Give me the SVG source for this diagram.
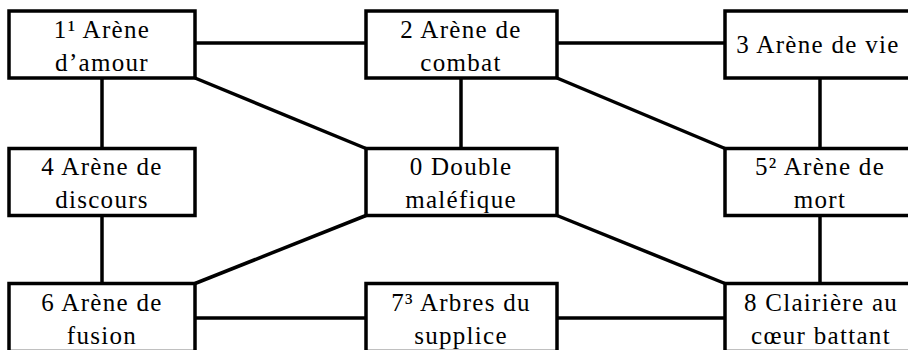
<svg xmlns="http://www.w3.org/2000/svg" width="908" height="350" viewBox="0 0 908 350">
<style>
.box{fill:#fff;stroke:#000;stroke-width:3.5}
.con line{stroke:#000;stroke-width:3.5}
.t{font-family:'Liberation Serif','DejaVu Serif',serif;font-size:25px;fill:#000;text-anchor:middle;letter-spacing:1.3px}
</style>
<rect width="908" height="350" fill="#fff"/>
<g id="connectors" class="con">
<line x1="195" y1="43" x2="366" y2="43"/>
<line x1="557" y1="43" x2="725" y2="43"/>
<line x1="102" y1="78" x2="102" y2="148.5"/>
<line x1="102" y1="215.5" x2="102" y2="283.5"/>
<line x1="461" y1="78" x2="461" y2="148.5"/>
<line x1="820" y1="78" x2="820" y2="148.5"/>
<line x1="820" y1="215.5" x2="820" y2="283.5"/>
<line x1="195" y1="78" x2="366" y2="148.5"/>
<line x1="557" y1="78" x2="725" y2="148.5"/>
<line x1="366" y1="215.5" x2="195" y2="283.5"/>
<line x1="557" y1="215.5" x2="725" y2="283.5"/>
<line x1="195" y1="318" x2="366" y2="318"/>
<line x1="557" y1="318" x2="725" y2="318"/>
</g>
<g class="t" font-family="Liberation Serif, serif">
<g id="n1"><rect class="box" x="9" y="11" width="186" height="67"/><text x="102" y="38">1¹ Arène</text><text x="102" y="71">d’amour</text></g>
<g id="n2"><rect class="box" x="366" y="11" width="191" height="67"/><text x="461" y="38">2 Arène de</text><text x="461" y="71">combat</text></g>
<g id="n3"><rect class="box" x="725" y="11" width="192" height="67"/><text x="818" y="53">3 Arène de vie</text></g>
<g id="n4"><rect class="box" x="9" y="148.5" width="186" height="67"/><text x="102" y="175">4 Arène de</text><text x="102" y="208">discours</text></g>
<g id="n0"><rect class="box" x="366" y="148.5" width="191" height="67"/><text x="461" y="175">0 Double</text><text x="461" y="208">maléfique</text></g>
<g id="n5"><rect class="box" x="725" y="148.5" width="192" height="67"/><text x="820" y="175">5² Arène de</text><text x="820" y="208">mort</text></g>
<g id="n6"><rect class="box" x="9" y="283.5" width="186" height="68"/><text x="102" y="311">6 Arène de</text><text x="102" y="344">fusion</text></g>
<g id="n7"><rect class="box" x="366" y="283.5" width="191" height="68"/><text x="461" y="311">7³ Arbres du</text><text x="461" y="344">supplice</text></g>
<g id="n8"><rect class="box" x="725" y="283.5" width="192" height="68"/><text x="821" y="311">8 Clairière au</text><text x="821" y="344">cœur battant</text></g>
</g>
</svg>
